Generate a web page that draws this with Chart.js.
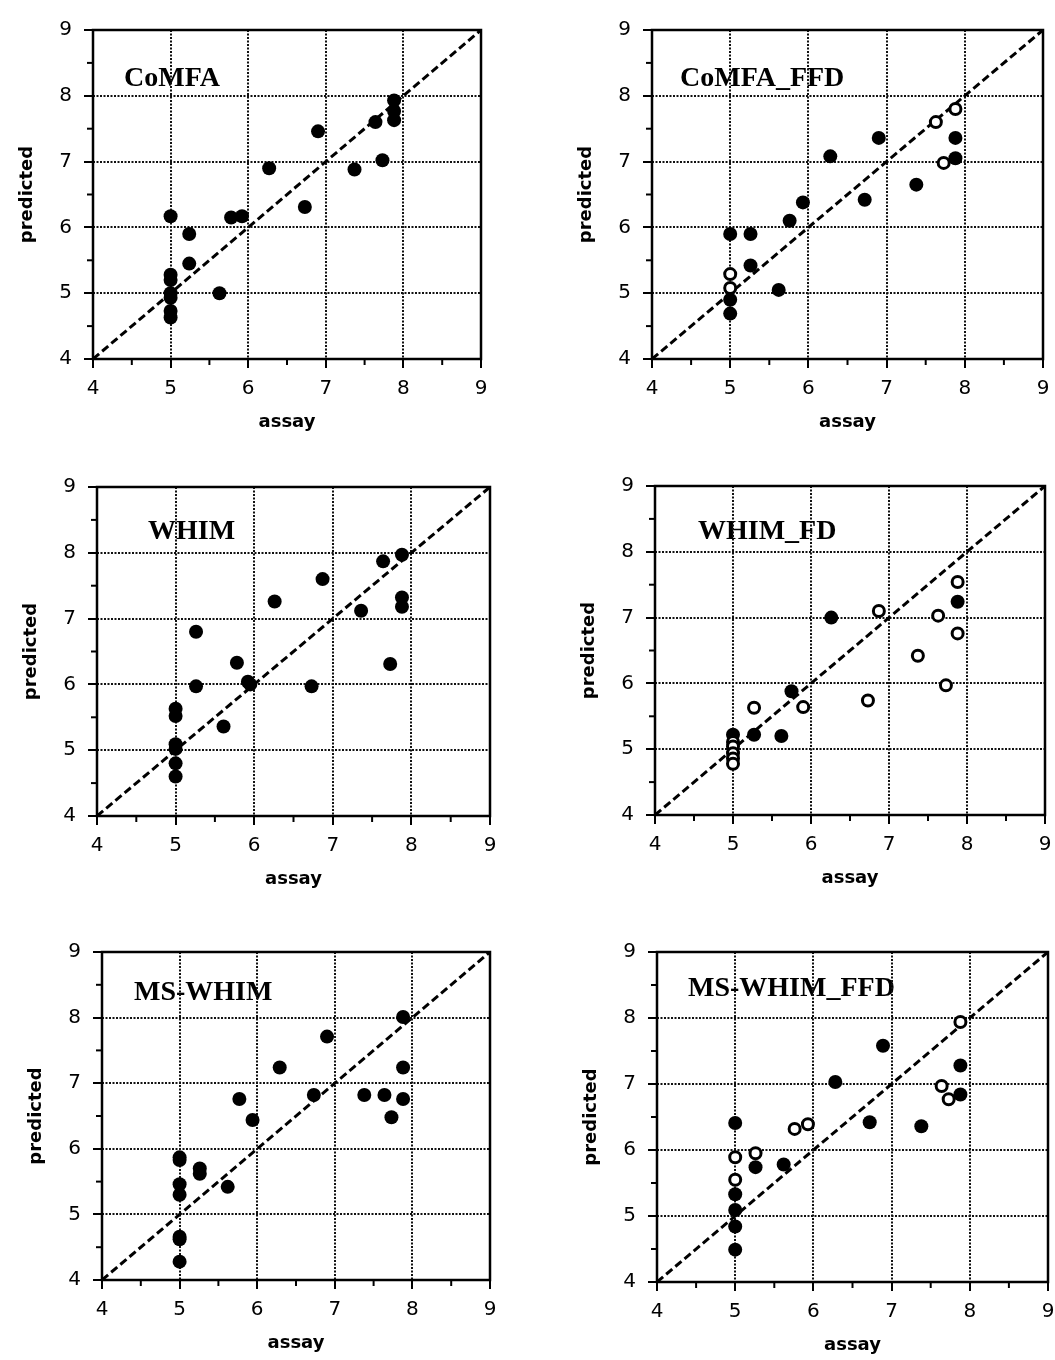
<!DOCTYPE html>
<html lang="en">
<head>
    <meta charset="UTF-8">
    <title>Predicted vs assay</title>
    <script src="https://cdn.jsdelivr.net/npm/chart.js"></script>
    <style>
        body { margin: 0; background: #fff; }
        #wrap { position: relative; width: 1055px; height: 1360px; }
        canvas { position: absolute; }
    </style>
</head>
<body>
    <div id="wrap"></div>

    <script>
        // one pair of arrays per marker style
        var comfaX = [5, 5, 5, 5, 5, 5, 5, 5.24, 5.24, 5.63, 5.78, 5.92, 6.27, 6.73, 6.9, 7.37, 7.64, 7.73, 7.88, 7.88, 7.88];
        var comfaY = [6.17, 5.28, 5.2, 5.0, 4.93, 4.73, 4.63, 5.9, 5.45, 5.0, 6.15, 6.17, 6.9, 6.31, 7.46, 6.88, 7.6, 7.02, 7.93, 7.77, 7.63];

        var comfaFfdX = [5, 5.26, 5, 5, 5.26, 5.62, 5.76, 5.93, 6.28, 6.72, 6.9, 7.38, 7.88, 7.88];
        var comfaFfdY = [5.9, 5.9, 4.9, 4.69, 5.42, 5.05, 6.1, 6.38, 7.08, 6.42, 7.36, 6.65, 7.36, 7.05];
        var comfaFfdOpenX = [5, 5, 7.63, 7.73, 7.88];
        var comfaFfdOpenY = [5.29, 5.08, 7.6, 6.98, 7.8];

        var whimX = [5, 5, 5, 5, 5, 5, 5.26, 5.26, 5.61, 5.78, 5.92, 5.95, 6.26, 6.73, 6.87, 7.36, 7.64, 7.73, 7.88, 7.88, 7.88];
        var whimY = [5.63, 5.52, 5.09, 5.02, 4.8, 4.6, 6.8, 5.97, 5.36, 6.33, 6.04, 6.0, 7.26, 5.97, 7.6, 7.12, 7.87, 6.31, 7.97, 7.32, 7.18];

        var whimFdX = [5, 5.27, 5.62, 5.75, 6.26, 7.88];
        var whimFdY = [5.22, 5.22, 5.2, 5.88, 7.0, 7.24];
        var whimFdOpenX = [5, 5, 5, 5, 5, 5.27, 5.9, 6.73, 6.87, 7.37, 7.63, 7.73, 7.88, 7.88];
        var whimFdOpenY = [5.11, 5.04, 4.94, 4.86, 4.78, 5.63, 5.64, 5.74, 7.1, 6.42, 7.03, 5.97, 7.54, 6.76];

        var msWhimX = [5, 5, 5, 5, 5, 5, 5, 5.26, 5.26, 5.62, 5.77, 5.94, 6.29, 6.73, 6.9, 7.38, 7.64, 7.73, 7.88, 7.88, 7.88];
        var msWhimY = [5.87, 5.83, 5.46, 5.3, 4.66, 4.62, 4.28, 5.7, 5.62, 5.42, 6.76, 6.44, 7.24, 6.82, 7.71, 6.82, 6.82, 6.48, 8.01, 7.24, 6.76];

        var msWhimFfdX = [5, 5, 5, 5, 5, 5.26, 5.62, 6.28, 6.72, 6.89, 7.38, 7.88, 7.88];
        var msWhimFfdY = [6.41, 5.33, 5.09, 4.84, 4.49, 5.74, 5.78, 7.03, 6.42, 7.58, 6.36, 7.28, 6.84];
        var msWhimFfdOpenX = [5, 5, 5.26, 5.76, 5.93, 7.64, 7.73, 7.88];
        var msWhimFfdOpenY = [5.89, 5.55, 5.95, 6.32, 6.39, 6.97, 6.77, 7.94];

        var axisMin = 4, axisMax = 9;
        var tickValues = [4, 5, 6, 7, 8, 9];

        function pts(xs, ys) {
            return xs.map(function (x, i) { return { x: x, y: ys[i] }; });
        }

        // plot area of each panel on the page, and where its name sits inside
        var panels = [
            { name: 'CoMFA', filled: pts(comfaX, comfaY), open: [], area: [93, 21, 481, 359], dx: 31, dy: 56 },
            { name: 'CoMFA_FFD', filled: pts(comfaFfdX, comfaFfdY), open: pts(comfaFfdOpenX, comfaFfdOpenY), area: [652, 21, 1043, 359], dx: 28, dy: 56 },
            { name: 'WHIM', filled: pts(whimX, whimY), open: [], area: [97, 478, 490, 816], dx: 51, dy: 52 },
            { name: 'WHIM_FD', filled: pts(whimFdX, whimFdY), open: pts(whimFdOpenX, whimFdOpenY), area: [655, 477, 1045, 815], dx: 43, dy: 53 },
            { name: 'MS-WHIM', filled: pts(msWhimX, msWhimY), open: [], area: [102, 943, 490, 1280], dx: 32, dy: 48 },
            { name: 'MS-WHIM_FFD', filled: pts(msWhimFfdX, msWhimFfdY), open: pts(msWhimFfdOpenX, msWhimFfdOpenY), area: [657, 943, 1048, 1282], dx: 31, dy: 44 }
        ];

        var Y_W = 90, X_H = 80, PAD_T = 15, PAD_R = 20;

        var panelDecor = {
            id: 'panelDecor',
            beforeDraw: function (chart, args, opts) {
                var a = chart.chartArea, ctx = chart.ctx;
                ctx.save();
                ctx.font = 'bold 28px "Liberation Serif"';
                ctx.fillStyle = '#000';
                ctx.textBaseline = 'alphabetic';
                ctx.fillText(opts.text, a.left + opts.dx, a.top + opts.dy);
                ctx.restore();
            },
            afterDraw: function (chart) {
                var a = chart.chartArea, ctx = chart.ctx;
                var sx = chart.scales.x, sy = chart.scales.y;
                ctx.save();
                ctx.strokeStyle = '#000';
                ctx.lineWidth = 2;
                // half-unit minor ticks
                for (var v = 4.5; v < 9; v += 1) {
                    var px = sx.getPixelForValue(v);
                    ctx.beginPath(); ctx.moveTo(px, a.bottom); ctx.lineTo(px, a.bottom + 6); ctx.stroke();
                    var py = sy.getPixelForValue(v);
                    ctx.beginPath(); ctx.moveTo(a.left, py); ctx.lineTo(a.left - 6, py); ctx.stroke();
                }
                ctx.lineWidth = 2.5;
                ctx.strokeRect(a.left, a.top, a.right - a.left, a.bottom - a.top);
                ctx.restore();
            }
        };

        function gridColor(c) {
            if (c.tick && (c.tick.value === axisMin || c.tick.value === axisMax)) return 'rgba(0,0,0,0)';
            return '#111';
        }

        function axis(title, isY) {
            return {
                type: 'linear',
                min: axisMin,
                max: axisMax,
                afterFit: function (s) { if (isY) s.width = Y_W; else s.height = X_H; },
                afterBuildTicks: function (s) { s.ticks = tickValues.map(function (v) { return { value: v }; }); },
                ticks: {
                    color: '#000',
                    padding: isY ? 12 : 9,
                    font: { family: 'DejaVu Sans', size: 20 }
                },
                grid: {
                    color: gridColor,
                    lineWidth: 2,
                    tickColor: '#000',
                    tickWidth: 2,
                    tickLength: 9
                },
                border: { display: false, dash: [2, 1.5] },
                title: {
                    display: true,
                    text: title,
                    color: '#000',
                    font: { family: 'DejaVu Sans', size: 18, weight: 'bold' },
                    padding: isY ? { top: 14, bottom: 0 } : { top: 0, bottom: 6 }
                }
            };
        }

        var wrap = document.getElementById('wrap');

        panels.forEach(function (p) {
            var L = p.area[0], T = p.area[1], R = p.area[2], B = p.area[3];
            var canvas = document.createElement('canvas');
            canvas.width = Y_W + (R - L) + PAD_R;
            canvas.height = PAD_T + (B - T) + X_H;
            canvas.style.left = (L - Y_W) + 'px';
            canvas.style.top = (T - PAD_T) + 'px';
            wrap.appendChild(canvas);

            new Chart(canvas.getContext('2d'), {
                type: 'scatter',
                data: {
                    datasets: [
                        {
                            data: p.filled,
                            pointRadius: 7,
                            pointBackgroundColor: '#000',
                            pointBorderColor: '#000',
                            pointBorderWidth: 0,
                            order: 1
                        },
                        {
                            data: p.open,
                            pointRadius: 5.5,
                            pointBackgroundColor: '#fff',
                            pointBorderColor: '#000',
                            pointBorderWidth: 3,
                            order: 0
                        },
                        {
                            type: 'line',
                            data: [{ x: axisMin, y: axisMin }, { x: axisMax, y: axisMax }],
                            borderColor: '#000',
                            borderWidth: 3,
                            borderDash: [8, 4],
                            pointRadius: 0,
                            order: 2
                        }
                    ]
                },
                options: {
                    responsive: false,
                    animation: false,
                    devicePixelRatio: 1,
                    layout: { padding: { left: 0, top: PAD_T, right: PAD_R, bottom: 0 } },
                    plugins: {
                        legend: { display: false },
                        tooltip: { enabled: false },
                        panelDecor: { text: p.name, dx: p.dx, dy: p.dy }
                    },
                    scales: {
                        x: axis('assay', false),
                        y: axis('predicted', true)
                    }
                },
                plugins: [panelDecor]
            });
        });
    </script>
</body>
</html>
